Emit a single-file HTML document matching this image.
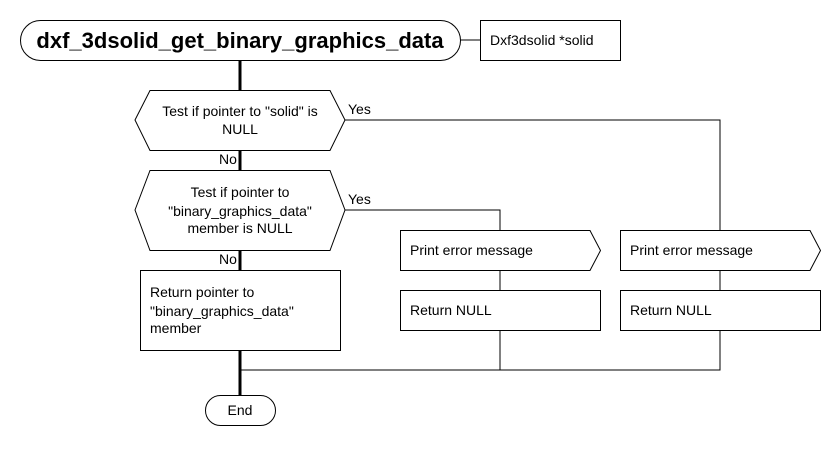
<!DOCTYPE html>
<html><head><meta charset="utf-8"><style>
html,body{margin:0;padding:0;background:#fff;}
svg{display:block;}
text{font-family:"Liberation Sans",sans-serif;font-size:14px;fill:#000;}
</style></head><body>
<svg width="840" height="450" viewBox="0 0 840 450" xmlns="http://www.w3.org/2000/svg">
<g fill="none" stroke="#000" stroke-width="1">
  <line x1="460" y1="40" x2="480" y2="40"/>
  <polyline points="345,120 720,120 720,230"/>
  <polyline points="345,210 500,210 500,230"/>
  <line x1="500" y1="270" x2="500" y2="290"/>
  <line x1="720" y1="270" x2="720" y2="290"/>
  <polyline points="500,330 500,370"/>
  <polyline points="720,330 720,370 240,370"/>
</g>
<g stroke="#000" stroke-width="3">
  <line x1="240" y1="60" x2="240" y2="90"/>
  <line x1="240" y1="150" x2="240" y2="170"/>
  <line x1="240" y1="250" x2="240" y2="270"/>
  <line x1="240" y1="350" x2="240" y2="395"/>
</g>
<g fill="#fff" stroke="#000" stroke-width="1">
  <rect x="20.5" y="20.5" width="440" height="40" rx="20"/>
  <rect x="480.5" y="20.5" width="140" height="40"/>
  <polygon points="135,120 150,90.5 330,90.5 345,120 330,150.5 150,150.5"/>
  <polygon points="135,210 150,170.5 330,170.5 345,210 330,250.5 150,250.5"/>
  <polygon points="400.5,230.5 590,230.5 600.5,250.5 590,270.5 400.5,270.5"/>
  <polygon points="620.5,230.5 810,230.5 820.5,250.5 810,270.5 620.5,270.5"/>
  <rect x="400.5" y="290.5" width="200" height="40"/>
  <rect x="620.5" y="290.5" width="200" height="40"/>
  <rect x="140.5" y="270.5" width="200" height="80"/>
  <rect x="205.5" y="395.5" width="70" height="30" rx="15"/>
</g>
<text x="240" y="48" text-anchor="middle" style="font-size:22px;font-weight:bold">dxf_3dsolid_get_binary_graphics_data</text>
<text x="490" y="45">Dxf3dsolid *solid</text>
<text x="240" y="116" text-anchor="middle">Test if pointer to "solid" is</text>
<text x="240" y="134" text-anchor="middle">NULL</text>
<text x="348" y="114">Yes</text>
<text x="219" y="164">No</text>
<text x="240" y="197" text-anchor="middle">Test if pointer to</text>
<text x="240" y="216" text-anchor="middle">"binary_graphics_data"</text>
<text x="240" y="233" text-anchor="middle">member is NULL</text>
<text x="348" y="204">Yes</text>
<text x="219" y="264">No</text>
<text x="410" y="255">Print error message</text>
<text x="630" y="255">Print error message</text>
<text x="410" y="315">Return NULL</text>
<text x="630" y="315">Return NULL</text>
<text x="150" y="297">Return pointer to</text>
<text x="150" y="316">"binary_graphics_data"</text>
<text x="150" y="333">member</text>
<text x="240" y="415" text-anchor="middle">End</text>
</svg>
</body></html>
